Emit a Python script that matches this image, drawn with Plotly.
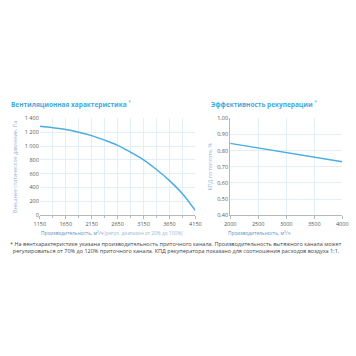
import plotly.graph_objects as go

# Left chart: fan curve
flow_left = [1150, 1400, 1650, 1900, 2150, 2400, 2650, 2900, 3150, 3400, 3650, 3900, 4150]
pressure = [1285, 1265, 1240, 1200, 1150, 1085, 1010, 910, 800, 660, 500, 310, 65]

# Right chart: recuperation efficiency
flow_right = [2000, 2500, 3000, 3500, 4000]
efficiency = [0.845, 0.817, 0.789, 0.760, 0.731]

left_xticks = [1150, 1650, 2150, 2650, 3150, 3650, 4150]
left_yticks = [0, 200, 400, 600, 800, 1000, 1200, 1400]
right_xticks = [2000, 2500, 3000, 3500, 4000]
right_yticks = [0.4, 0.5, 0.6, 0.7, 0.8, 0.9, 1.0]

LINE = "#4aaee0"
GRID = "#e4eef5"
AXIS = "#b8b8b8"
TICKC = "#555555"
TITLEC = "#3fa9de"
FONT = "Open Sans"

W = H = 356

def px(x):
    return x / W

def py(y):
    return 1 - y / H

fig = go.Figure()
fig.add_trace(go.Scatter(x=flow_left, y=pressure, mode="lines", line=dict(color=LINE, width=1.5, shape="spline"),
                         xaxis="x", yaxis="y", hoverinfo="skip"))
fig.add_trace(go.Scatter(x=flow_right, y=efficiency, mode="lines", line=dict(color=LINE, width=1.5),
                         xaxis="x2", yaxis="y2", hoverinfo="skip"))

ydom = [py(216), py(117)]
common_axis = dict(showline=True, linecolor=AXIS, linewidth=1, gridcolor=GRID, gridwidth=1,
                   tickfont=dict(family=FONT, size=5.5, color=TICKC), zeroline=False,
                   ticks="outside", ticklen=3, tickcolor=AXIS)

fig.update_layout(
    width=W, height=H, margin=dict(l=0, r=0, t=0, b=0),
    paper_bgcolor="white", plot_bgcolor="white", showlegend=False,
    separators=", ",
    font=dict(family=FONT),
    xaxis=dict(domain=[px(35), px(196)], range=[1150, 4150], tickvals=left_xticks,
               minor=dict(dtick=250, tick0=1150, showgrid=True, gridcolor=GRID, ticks="outside", ticklen=2, tickcolor=AXIS),
               anchor="y", **common_axis),
    yaxis=dict(domain=ydom, range=[0, 1400], tickvals=left_yticks, separatethousands=True, anchor="x",
               title=dict(text="Внешнее статическое давление, Па", font=dict(family=FONT, size=5.3, color="#8fb4d6"), standoff=6),
               **{**common_axis, "showline": False, "ticks": ""}),
    xaxis2=dict(domain=[px(232), px(348)], range=[2000, 4000], tickvals=right_xticks, anchor="y2",
                **common_axis),
    yaxis2=dict(domain=ydom, range=[0.4, 1.0], tickvals=right_yticks, tickformat=".2f", anchor="x2",
                title=dict(text="КПД по теплоте, %", font=dict(family=FONT, size=5.3, color="#8fb4d6"), standoff=4),
                **{**common_axis, "showline": True, "ticks": ""}),
)

fig.add_annotation(x=px(110), y=py(234.5), xref="paper", yref="paper", xanchor="center", yanchor="middle",
                   text="<span style='color:#5b8fc7'>Производительность, м³/ч</span> <span style='color:#9ab8d8'>(регул. диапазон от 20% до 100%)</span>",
                   showarrow=False, font=dict(family=FONT, size=4.8))
fig.add_annotation(x=px(262), y=py(234.5), xref="paper", yref="paper", xanchor="center", yanchor="middle",
                   text="<span style='color:#5b8fc7'>Производительность, м³/ч</span>",
                   showarrow=False, font=dict(family=FONT, size=4.8))
fig.add_annotation(x=px(3), y=py(102), xref="paper", yref="paper", xanchor="left", yanchor="middle",
                   text="<b>Вентиляционная характеристика</b> <sup>*</sup>", showarrow=False,
                   font=dict(family=FONT, size=6.5, color=TITLEC))
fig.add_annotation(x=px(210), y=py(102), xref="paper", yref="paper", xanchor="left", yanchor="middle",
                   text="<b>Эффективность рекуперации</b> <sup>*</sup>", showarrow=False,
                   font=dict(family=FONT, size=6.5, color=TITLEC))
fig.add_annotation(x=px(2), y=py(249), xref="paper", yref="paper", xanchor="left", yanchor="middle",
                   align="left", showarrow=False,
                   text="* На вентхарактеристике указана производительность приточного канала. Производительность вытяжного канала может<br>"
                        "  регулироваться от 70% до 120% приточного канала. КПД рекуператора показано для соотношения расходов воздуха 1:1.",
                   font=dict(family=FONT, size=5.5, color="#444444"))

fig.write_html("out.html", config={"displayModeBar": False}, post_script="document.body.style.margin='0';")
